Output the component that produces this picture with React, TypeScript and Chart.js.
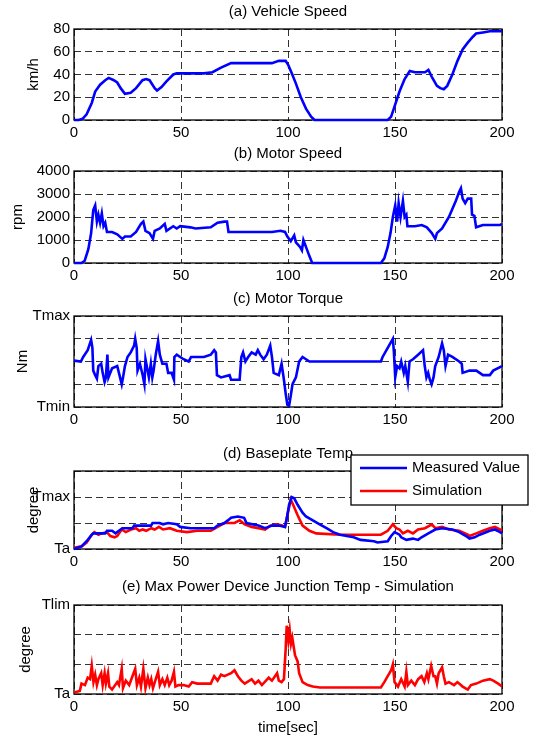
import React, { useEffect, useRef } from 'react';
import Chart from 'chart.js/auto';

const FONT = '"Liberation Sans", Arial, Helvetica, sans-serif';
const GRID = 'rgba(0,0,0,0.8)';

// ---- tick labels ----
const xTicks = [0, 50, 100, 150, 200];
const torqueTickLabels = ['Tmin', '', '', '', 'Tmax'];
const baseTickLabels = ['Ta', '', 'Tmax', ''];
const junctionTickLabels = ['Ta', '', '', 'Tlim'];

// ---- series: [time sec, value] ----
const vehicleSpeed = [[0,0],[2.2,0],[4,1],[5.9,5],[8.3,15],[9.9,25],[12.2,31],[14.6,35],[16.2,37],[18.6,35],[20.2,33],[21.8,28],[23.8,23],[26.5,24],[29,28],[32,35],[33.7,36],[35.3,35],[37.7,28],[38.8,26],[40.9,29],[43.2,34],[46.4,40],[48,41],[55,41],[60.7,41],[64.7,42],[68.7,46],[73.4,50],[80,50],[86.2,50],[92.5,50],[95.7,52],[98.9,52],[100.2,48],[102,40],[103.7,32],[106,20],[108.4,10],[110.8,3],[112.4,0],[146.6,0],[148.2,3],[149.8,12],[152.1,25],[154.5,36],[156.9,43],[159.3,42],[164,42],[165.6,44],[167.2,38],[169.6,30],[171.2,28],[172.8,27],[174.4,30],[176.8,40],[179.2,52],[181.6,62],[184,68],[186.3,73],[187.9,76],[191.1,77],[194.3,78],[200,78]];

const motorSpeed = [[0,0],[3.5,0],[5,100],[6.7,600],[8,1300],[9,2300],[9.9,2500],[10.7,1800],[11.4,2100],[12.2,1750],[13,2150],[13.8,1600],[14.6,1750],[15.4,1350],[17.8,1350],[20.2,1250],[22.6,1050],[23.8,1150],[26.5,1150],[29,1350],[31.3,1700],[32.4,1800],[33.4,1400],[35.3,1300],[36.9,1050],[37.7,1400],[40.1,1500],[42.4,1700],[43.2,1400],[46.4,1600],[48,1500],[49.6,1600],[54.4,1550],[56.8,1500],[63.9,1550],[67.1,1750],[70.3,1800],[71.5,1800],[72.2,1350],[76.6,1350],[92.5,1350],[96.5,1400],[98.6,1350],[99.7,1150],[101.3,950],[102.9,1200],[103.7,900],[105.6,700],[106.5,550],[107.2,1000],[108.4,700],[110,300],[111.3,0],[143.4,0],[145,200],[146.6,700],[147.9,1300],[149,2000],[150.1,2500],[151,1800],[151.7,2600],[152.6,2000],[153.7,2700],[154.5,2000],[155.3,2100],[155.8,1600],[159.3,1600],[162.5,1650],[164.9,1550],[167.2,1300],[168.8,1050],[169.6,1300],[172,1500],[175.2,2000],[178.4,2700],[180,3100],[180.8,3250],[181.6,2800],[182.8,2600],[184,2800],[185.6,2800],[186,2100],[187.1,2050],[187.9,1550],[191.1,1650],[199,1650],[200,1700]];

const motorTorque = [[0,2.04],[3.2,2.0],[4.3,2.2],[6.4,2.5],[8,2.95],[8.6,2.6],[9,1.6],[9.9,1.4],[10.7,1.25],[11.4,1.8],[12.7,1.9],[13.4,1.5],[14.3,1.1],[14.9,1.3],[15.6,2.3],[16.1,1.3],[17.8,1.7],[20.2,1.8],[21,1.5],[22.3,1.0],[22.9,1.3],[23.8,1.8],[25,2.2],[26.5,2.4],[28.1,2.7],[28.6,3.0],[29.3,2.6],[29.7,1.6],[30.8,1.9],[32.1,1.4],[32.9,1.0],[33.4,2.1],[34,1.8],[35,1.3],[35.9,1.9],[36.6,1.3],[37.2,1.6],[38.2,2.3],[39.3,2.9],[40.1,2.3],[41.3,1.9],[43.2,1.9],[44,1.5],[45.6,1.5],[46.7,1.2],[46.9,2.2],[48,2.3],[51.2,2.1],[53.6,2.0],[54.7,2.2],[56.8,2.2],[60.7,2.2],[63.9,2.3],[65.5,2.5],[66.3,2.4],[66.8,1.4],[68.7,1.3],[72.7,1.4],[73.4,1.2],[77.4,1.2],[78.2,2.2],[79,2.4],[80.1,2.0],[81.4,2.2],[83,2.4],[84.9,2.3],[85.9,2.5],[87,2.3],[88.6,2.1],[90.1,2.3],[91.7,2.7],[92.5,2.2],[93.3,1.5],[95.7,1.4],[97,1.9],[98.1,1.2],[98.9,0.6],[99.7,0.1],[100.5,0.05],[101.3,0.5],[102.1,1.0],[103.7,1.3],[105.2,2.0],[106.8,2.2],[108.4,2.1],[110,2.0],[143.4,2.0],[144.2,2.2],[146.6,2.6],[149,3.0],[149.5,2.4],[150.1,1.3],[151,1.8],[152.1,1.7],[152.9,2.0],[154.1,1.5],[154.8,1.8],[156,1.1],[156.8,2.0],[158.4,2.1],[160.8,2.3],[163.1,2.5],[163.9,1.8],[164.7,1.3],[165.5,1.5],[166.3,1.2],[167.1,1.0],[168,1.3],[168.8,1.8],[170.4,2.2],[172,2.8],[172.8,2.5],[173.6,1.8],[174.8,2.3],[176.8,2.2],[180,2.0],[181.2,1.9],[181.6,1.5],[184.8,1.6],[188,1.6],[191.1,1.4],[194.3,1.4],[195.9,1.6],[200,1.8]];

const baseMeasured = [[0,0],[3.5,0.1],[5.9,0.3],[8.3,0.55],[9,0.6],[14.6,0.6],[15.4,0.7],[17.8,0.7],[19.4,0.6],[21,0.7],[22.6,0.8],[27.3,0.8],[28.1,0.9],[36,0.9],[36.7,1.0],[40,1.0],[41.6,0.95],[44,1.0],[48,0.95],[49.6,0.85],[54.4,0.8],[65.5,0.8],[67,0.9],[70.3,1.0],[71.9,1.1],[73.4,1.2],[76.6,1.25],[79.5,1.2],[80.6,1.0],[86.2,0.9],[89.3,0.8],[90.9,0.85],[92.5,0.9],[95.7,0.9],[98.6,0.85],[99.7,1.3],[100.5,1.7],[101.7,2.0],[102.9,1.95],[104.5,1.7],[106.8,1.4],[108.4,1.25],[111.6,1.1],[114.8,0.95],[118,0.8],[121.1,0.65],[124.3,0.55],[130.7,0.45],[133.9,0.35],[140.2,0.3],[141.8,0.25],[146.6,0.3],[148.2,0.5],[149.8,0.65],[152.1,0.55],[152.9,0.45],[155.3,0.35],[158.4,0.4],[160.8,0.35],[162.4,0.45],[165.6,0.6],[168.8,0.75],[172,0.8],[176.8,0.75],[180,0.65],[183.2,0.5],[184.8,0.4],[187.2,0.45],[189.6,0.55],[194.3,0.7],[196.7,0.75],[199.1,0.65],[200,0.6]];

const baseSimulation = [[0,0.05],[3.5,0.1],[5.9,0.25],[8.3,0.55],[9.5,0.65],[11.4,0.55],[13,0.6],[15.4,0.65],[17,0.5],[19,0.45],[20.2,0.5],[22.3,0.75],[24.2,0.65],[26.6,0.75],[29,0.8],[30.5,0.7],[32.1,0.75],[33.7,0.7],[36.1,0.8],[37.7,0.75],[39.7,0.85],[41.6,0.75],[44.8,0.8],[48,0.7],[52.8,0.65],[57.6,0.7],[63.9,0.7],[67.1,0.85],[70.3,1.0],[75,1.0],[77.4,1.1],[79.8,0.95],[83,0.85],[86.2,0.8],[89.3,0.75],[91.7,0.9],[94.8,0.95],[97.3,0.9],[98.6,0.85],[99.7,1.3],[101.3,1.9],[102.4,1.7],[104.5,1.3],[106.8,0.9],[110,0.7],[113.2,0.6],[124.3,0.55],[143.4,0.55],[146.6,0.7],[149,0.95],[150.6,0.8],[152.1,0.75],[153.7,0.6],[156,0.7],[158.4,0.6],[160.8,0.75],[164,0.8],[167.2,0.95],[168.8,0.8],[172,0.85],[175.2,0.75],[180,0.7],[184,0.55],[184.8,0.5],[188,0.6],[191.1,0.7],[194.3,0.8],[196.7,0.85],[199,0.75],[200,0.7]];

const junctionSim = [[0,0.05],[2.7,0.1],[3.5,0.35],[5.1,0.3],[6.4,0.55],[7.5,0.5],[8.3,0.95],[9.1,0.4],[9.9,0.65],[10.7,0.3],[11.4,0.5],[12.7,0.7],[13.4,0.3],[14.3,0.7],[14.9,0.35],[15.9,0.7],[16.5,0.25],[17.8,0.15],[20.2,0.4],[21,0.3],[22.3,0.85],[22.9,0.2],[24.2,0.45],[25.8,0.3],[27.3,0.6],[28.6,0.85],[29.4,0.3],[30.5,0.55],[31.3,0.25],[32.4,0.85],[33.4,0.2],[34.5,0.55],[35.3,0.3],[36.1,0.5],[36.9,0.2],[38.2,0.5],[39.3,0.75],[40.1,0.3],[41.3,0.5],[42.4,0.3],[43.6,0.55],[44.5,0.3],[45.6,0.45],[46.7,0.75],[47.4,0.25],[48.8,0.3],[51.2,0.3],[53.6,0.25],[55.2,0.4],[57.6,0.35],[60.7,0.35],[63.9,0.35],[65.5,0.6],[67.1,0.45],[68.7,0.65],[70.3,0.6],[73.4,0.7],[75,0.8],[76.6,0.6],[78.2,0.45],[79.8,0.35],[83,0.5],[84.6,0.35],[86.2,0.45],[87.8,0.3],[91,0.55],[92.5,0.45],[94.9,0.7],[95.7,0.45],[97,0.4],[98.1,0.5],[98.9,1.5],[99.4,2.3],[100.2,1.8],[100.8,2.15],[101.4,1.7],[102,1.9],[103.3,1.3],[104.5,1.1],[105.2,0.7],[106.8,0.4],[109.2,0.3],[111.6,0.25],[114.8,0.22],[143.4,0.22],[145,0.4],[146.6,0.6],[148.2,0.8],[149,1.0],[149.8,0.4],[151.4,0.25],[152.9,0.5],[154.5,0.25],[155.3,0.75],[156,0.3],[157.6,0.45],[159.3,0.3],[160.8,0.5],[162.4,0.6],[163.7,0.4],[164.9,0.7],[165.6,0.5],[166.9,0.95],[168,0.6],[168.8,0.6],[169.6,0.35],[170.4,0.7],[172,0.9],[172.8,0.6],[173.6,0.35],[175.2,0.4],[177.6,0.3],[179.2,0.4],[181.6,0.25],[184,0.15],[185.5,0.3],[188,0.35],[191.1,0.45],[194.3,0.5],[195.9,0.45],[198.2,0.35],[200,0.25]];

const BLUE = '#0000ff';
const RED = '#ff0000';

type Series = { label: string; points: number[][]; color: string };
type Panel = {
  top: number; height: number; plotTop: number; plotBottom: number;
  title: string; titleY: number; yLabel: string; yLabelX: number;
  yMax: number; yStep: number; yTickLabels: string[] | null;
  series: Series[]; xTitle?: string;
  legend?: { x: number; y: number; w: number; h: number; rows: number[]; lineX0: number; lineX1: number; textX: number };
};

const panels: Panel[] = [
  { top: 0, height: 145, plotTop: 29, plotBottom: 120, title: '(a) Vehicle Speed', titleY: 12,
    yLabel: 'km/h', yLabelX: 34, yMax: 80, yStep: 20, yTickLabels: null,
    series: [{ label: 'Vehicle Speed', points: vehicleSpeed, color: BLUE }] },
  { top: 145, height: 145, plotTop: 26, plotBottom: 118, title: '(b) Motor Speed', titleY: 9,
    yLabel: 'rpm', yLabelX: 18, yMax: 4000, yStep: 1000, yTickLabels: null,
    series: [{ label: 'Motor Speed', points: motorSpeed, color: BLUE }] },
  { top: 290, height: 145, plotTop: 26, plotBottom: 117, title: '(c) Motor Torque', titleY: 9,
    yLabel: 'Nm', yLabelX: 23, yMax: 4, yStep: 1, yTickLabels: torqueTickLabels,
    series: [{ label: 'Motor Torque', points: motorTorque, color: BLUE }] },
  { top: 435, height: 145, plotTop: 36, plotBottom: 114, title: '(d) Baseplate Temp', titleY: 19,
    yLabel: 'degree', yLabelX: 34, yMax: 3, yStep: 1, yTickLabels: baseTickLabels,
    series: [
      { label: 'Measured Value', points: baseMeasured, color: BLUE },
      { label: 'Simulation', points: baseSimulation, color: RED },
    ],
    legend: { x: 351, y: 20, w: 177, h: 50, rows: [13, 36], lineX0: 360, lineX1: 407, textX: 412 } },
  { top: 580, height: 157, plotTop: 25, plotBottom: 114, title: '(e) Max Power Device Junction Temp - Simulation', titleY: 7,
    yLabel: 'degree', yLabelX: 26, yMax: 3, yStep: 1, yTickLabels: junctionTickLabels,
    series: [{ label: 'Junction Temp', points: junctionSim, color: RED }], xTitle: 'time[sec]' },
];

const decorPlugin = {
  id: 'panelDecor',
  beforeDatasetsDraw(chart: any) {
    const { ctx, chartArea: a } = chart;
    ctx.save();
    ctx.setLineDash([]);
    ctx.strokeStyle = '#000';
    ctx.lineWidth = 1.3;
    ctx.strokeRect(a.left, a.top, a.right - a.left, a.bottom - a.top);
    ctx.restore();
  },
  afterDraw(chart: any, _args: any, opts: any) {
    const { ctx, chartArea: a } = chart;
    ctx.save();
    ctx.setLineDash([]);
    ctx.fillStyle = '#000';
    ctx.font = `15px ${FONT}`;
    ctx.textAlign = 'center';
    ctx.textBaseline = 'middle';
    ctx.fillText(opts.title, (a.left + a.right) / 2, opts.titleY);
    const L = opts.legend;
    if (L) {
      ctx.fillStyle = '#fff';
      ctx.fillRect(L.x, L.y, L.w, L.h);
      ctx.strokeStyle = '#000';
      ctx.lineWidth = 1.3;
      ctx.strokeRect(L.x, L.y, L.w, L.h);
      chart.data.datasets.forEach((ds: any, i: number) => {
        const y = L.y + L.rows[i];
        ctx.strokeStyle = ds.borderColor;
        ctx.lineWidth = 2.6;
        ctx.beginPath();
        ctx.moveTo(L.lineX0, y);
        ctx.lineTo(L.lineX1, y);
        ctx.stroke();
        ctx.fillStyle = '#000';
        ctx.textAlign = 'left';
        ctx.fillText(ds.label, L.textX, y);
      });
    }
    ctx.restore();
  },
};

function PanelChart({ p }: { p: Panel }) {
  const ref = useRef<HTMLCanvasElement | null>(null);
  useEffect(() => {
    if (!ref.current) return;
    const tickFont = { size: 15, family: FONT };
    const chart = new Chart(ref.current, {
      type: 'line',
      data: {
        datasets: p.series.map((s) => ({
          label: s.label,
          data: s.points.map(([x, y]) => ({ x, y })),
          borderColor: s.color,
          backgroundColor: s.color,
          borderWidth: 2.6,
          pointRadius: 0,
          tension: 0,
          fill: false,
          clip: false as any,
        })),
      },
      options: {
        responsive: false,
        animation: false,
        devicePixelRatio: 1,
        layout: { padding: { left: 0, right: 32, top: p.plotTop, bottom: 0 } },
        plugins: {
          legend: { display: false },
          tooltip: { enabled: false },
          panelDecor: { title: p.title, titleY: p.titleY, legend: p.legend || null },
        } as any,
        scales: {
          x: {
            type: 'linear', min: xTicks[0], max: xTicks[xTicks.length - 1],
            afterFit: (s: any) => { s.height = p.height - p.plotBottom; },
            afterBuildTicks: (s: any) => { s.ticks = xTicks.map((v) => ({ value: v })); },
            ticks: { font: tickFont, color: '#000', padding: 4, maxRotation: 0, autoSkip: false, callback: (v: any) => String(v) },
            grid: { color: GRID, lineWidth: 1, drawTicks: false },
            border: { display: false, dash: [7, 4] },
            title: p.xTitle
              ? { display: true, text: p.xTitle, color: '#000', font: tickFont, padding: { top: 0, bottom: 0 } }
              : { display: false },
          },
          y: {
            type: 'linear', min: 0, max: p.yMax,
            afterFit: (s: any) => { s.width = 74; },
            ticks: {
              stepSize: p.yStep, font: tickFont, color: '#000', padding: 4, autoSkip: false,
              callback: (v: any) => (p.yTickLabels ? (p.yTickLabels[Math.round(v)] ?? '') : String(v)),
            },
            grid: { color: GRID, lineWidth: 1, drawTicks: false },
            border: { display: false, dash: [7, 4] },
            title: { display: true, text: p.yLabel, color: '#000', font: tickFont, padding: { top: p.yLabelX - 9, bottom: 0 } },
          },
        },
      } as any,
      plugins: [decorPlugin],
    });
    return () => chart.destroy();
  }, [p]);
  return (
    <canvas
      ref={ref}
      width={534}
      height={p.height}
      style={{ position: 'absolute', left: 0, top: p.top, width: 534, height: p.height }}
    />
  );
}

export default function App() {
  return (
    <div style={{ position: 'absolute', left: 0, top: 0, width: 534, height: 737, background: '#fff' }}>
      {panels.map((p, i) => (
        <PanelChart key={i} p={p} />
      ))}
    </div>
  );
}
